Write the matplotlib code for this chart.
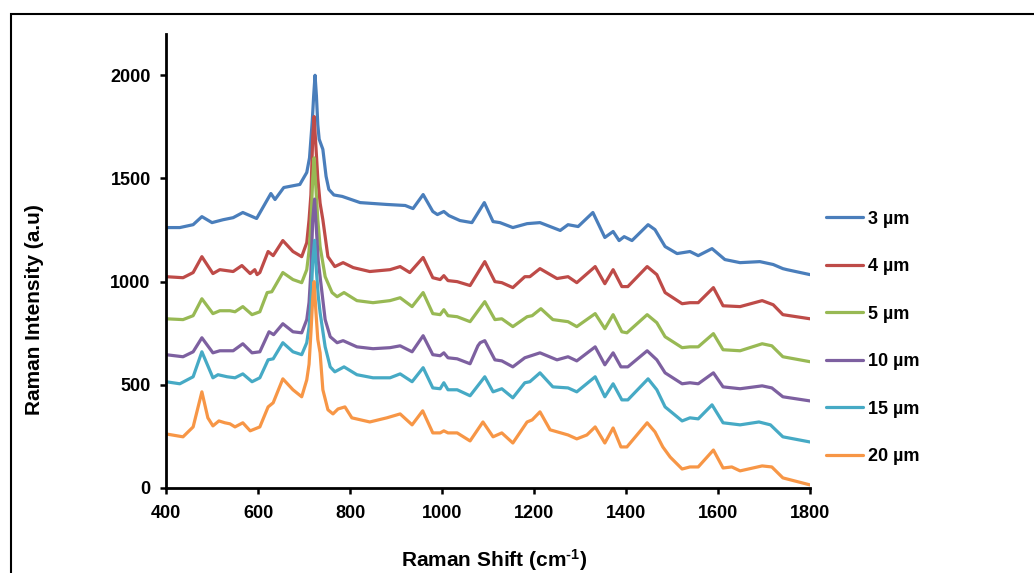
import matplotlib
matplotlib.use('Agg')
import matplotlib.pyplot as plt
from matplotlib.patches import Rectangle

plt.rcParams['font.family'] = ['Liberation Sans', 'DejaVu Sans']
plt.rcParams['font.weight'] = 'bold'
plt.rcParams['mathtext.fontset'] = 'custom'
plt.rcParams['mathtext.rm'] = 'Liberation Sans:bold'
plt.rcParams['mathtext.default'] = 'rm'

# spectra (Raman shift in cm-1, intensity in a.u.)
x_3um = [400, 430, 459, 478, 500, 524, 546, 567, 597, 628,
         637, 656, 691, 706, 712, 718, 721, 724, 727, 730,
         733, 741, 748, 754, 765, 783, 822, 880, 920, 937,
         959, 980, 990, 1004, 1015, 1039, 1065, 1092, 1111, 1126,
         1154, 1185, 1213, 1257, 1274, 1296, 1328, 1354, 1372, 1385,
         1396, 1413, 1448, 1463, 1485, 1511, 1539, 1557, 1587, 1615,
         1648, 1691, 1720, 1741, 1750, 1800]
y_3um = [1262, 1262, 1276, 1315, 1286, 1300, 1310, 1335, 1306, 1427,
         1398, 1456, 1471, 1529, 1600, 1780, 1900, 2000, 1900, 1760,
         1690, 1641, 1510, 1447, 1420, 1413, 1383, 1374, 1369, 1354,
         1422, 1340, 1325, 1340, 1320, 1296, 1286, 1383, 1291, 1286,
         1262, 1281, 1286, 1248, 1276, 1267, 1335, 1214, 1243, 1199,
         1218, 1199, 1276, 1252, 1170, 1136, 1146, 1126, 1160, 1107,
         1092, 1097, 1083, 1063, 1058, 1034]

x_4um = [400, 437, 459, 478, 502, 517, 546, 565, 583, 593,
         598, 604, 622, 633, 654, 676, 695, 706, 711, 715,
         719, 722, 726, 730, 735, 741, 752, 767, 785, 807,
         843, 887, 909, 930, 959, 980, 996, 1004, 1013, 1033,
         1061, 1093, 1115, 1130, 1154, 1180, 1191, 1213, 1250, 1274,
         1293, 1333, 1354, 1372, 1391, 1404, 1446, 1467, 1485, 1522,
         1539, 1557, 1590, 1611, 1648, 1696, 1720, 1741, 1800]
y_4um = [1024, 1019, 1044, 1121, 1039, 1058, 1049, 1078, 1039, 1058,
         1034, 1044, 1146, 1126, 1199, 1146, 1121, 1189, 1300, 1420,
         1700, 1800, 1650, 1500, 1380, 1300, 1121, 1073, 1092, 1068,
         1049, 1058, 1073, 1044, 1117, 1019, 1010, 1029, 1005, 1000,
         981, 1097, 1000, 995, 971, 1024, 1024, 1063, 1015, 1024,
         995, 1073, 990, 1058, 976, 976, 1073, 1034, 947, 893,
         898, 898, 971, 883, 879, 908, 888, 840, 820]

x_5um = [400, 437, 459, 478, 502, 517, 539, 550, 567, 587,
         604, 620, 630, 654, 676, 695, 706, 711, 715, 719,
         722, 726, 730, 735, 746, 761, 772, 787, 815, 850,
         887, 909, 935, 959, 980, 996, 1004, 1013, 1033, 1061,
         1093, 1115, 1130, 1154, 1185, 1196, 1215, 1241, 1274, 1293,
         1333, 1354, 1372, 1391, 1402, 1446, 1467, 1485, 1522, 1539,
         1557, 1590, 1611, 1648, 1696, 1717, 1741, 1800]
y_5um = [820, 816, 835, 917, 845, 859, 859, 854, 879, 840,
         854, 947, 951, 1044, 1010, 995, 1058, 1150, 1280, 1500,
         1600, 1450, 1300, 1170, 1024, 947, 927, 947, 908, 898,
         908, 922, 879, 947, 845, 840, 864, 835, 830, 806,
         903, 816, 820, 782, 830, 835, 869, 816, 806, 782,
         845, 772, 840, 757, 752, 840, 801, 733, 680, 684,
         684, 748, 670, 665, 699, 689, 636, 612]

x_10um = [400, 437, 459, 478, 502, 517, 546, 567, 587, 604,
          624, 634, 654, 676, 695, 706, 711, 715, 719, 723,
          727, 731, 735, 746, 757, 772, 785, 815, 850, 887,
          909, 935, 959, 980, 996, 1004, 1013, 1033, 1061, 1078,
          1083, 1093, 1115, 1130, 1154, 1180, 1213, 1250, 1274, 1293,
          1333, 1354, 1372, 1389, 1404, 1446, 1467, 1485, 1522, 1539,
          1557, 1590, 1611, 1648, 1696, 1717, 1741, 1800]
y_10um = [646, 636, 660, 728, 655, 665, 665, 699, 655, 660,
          757, 743, 796, 757, 752, 816, 900, 1050, 1300, 1400,
          1250, 1100, 1024, 816, 733, 704, 714, 684, 675, 680,
          689, 660, 738, 646, 641, 655, 631, 626, 602, 689,
          704, 714, 621, 616, 587, 631, 655, 621, 636, 616,
          684, 597, 655, 587, 587, 665, 621, 558, 505, 510,
          505, 558, 490, 481, 495, 485, 442, 422]

x_15um = [400, 430, 459, 478, 502, 513, 533, 550, 567, 587,
          604, 622, 633, 654, 676, 695, 706, 711, 715, 719,
          723, 727, 731, 735, 746, 757, 767, 787, 815, 850,
          887, 909, 935, 959, 980, 996, 1004, 1013, 1033, 1061,
          1093, 1111, 1130, 1154, 1180, 1191, 1213, 1241, 1274, 1293,
          1333, 1354, 1372, 1391, 1404, 1448, 1467, 1485, 1522, 1539,
          1557, 1587, 1611, 1648, 1689, 1714, 1741, 1800]
y_15um = [515, 505, 539, 660, 534, 549, 539, 534, 553, 515,
          534, 621, 626, 704, 660, 646, 704, 780, 900, 1100,
          1200, 1050, 930, 850, 684, 587, 563, 587, 549, 534,
          534, 553, 515, 583, 485, 481, 510, 476, 476, 447,
          539, 466, 481, 437, 510, 515, 558, 490, 485, 466,
          539, 442, 505, 427, 427, 529, 476, 393, 325, 340,
          335, 403, 316, 306, 320, 306, 248, 223]

x_20um = [400, 437, 459, 478, 491, 502, 515, 528, 539, 550,
          567, 583, 604, 622, 633, 654, 676, 695, 706, 711,
          715, 719, 722, 726, 730, 735, 741, 752, 763, 774,
          789, 804, 843, 880, 909, 935, 958, 980, 996, 1004,
          1013, 1033, 1061, 1089, 1111, 1130, 1154, 1185, 1196, 1213,
          1235, 1274, 1293, 1315, 1333, 1354, 1372, 1389, 1402, 1446,
          1463, 1480, 1496, 1522, 1539, 1557, 1590, 1611, 1630, 1648,
          1696, 1717, 1741, 1800]
y_20um = [262, 248, 296, 466, 340, 301, 325, 316, 311, 296,
          316, 277, 296, 393, 413, 529, 476, 442, 524, 600,
          750, 920, 1000, 850, 720, 655, 476, 379, 359, 383,
          393, 340, 320, 340, 359, 306, 374, 267, 267, 277,
          267, 267, 228, 320, 248, 267, 218, 320, 330, 369,
          282, 257, 238, 257, 296, 218, 291, 199, 199, 316,
          272, 199, 150, 92, 102, 102, 184, 97, 102, 83,
          107, 102, 49, 15]

labels = ['3 µm', '4 µm', '5 µm', '10 µm', '15 µm', '20 µm']
colors = ['#4A7EBB', '#BE4B48', '#98B954', '#7D60A0', '#46AAC5', '#F79646']
series = [(x_3um, y_3um), (x_4um, y_4um), (x_5um, y_5um),
          (x_10um, y_10um), (x_15um, y_15um), (x_20um, y_20um)]

fig = plt.figure(figsize=(10.34, 5.73), dpi=100)
ax = fig.add_axes([166 / 1034, 1 - 488 / 573, 644 / 1034, 454 / 573])

for (xs, ys), lab, col in zip(series, labels, colors):
    ax.plot(xs, ys, color=col, lw=2.3, label=lab,
            solid_joinstyle='round', solid_capstyle='round')

ax.set_xlim(400, 1800)
ax.set_ylim(0, 2200)
ax.set_xticks(range(400, 1801, 200))
ax.set_yticks(range(0, 2001, 500))

for s in ['top', 'right']:
    ax.spines[s].set_visible(False)
for s in ['left', 'bottom']:
    ax.spines[s].set_linewidth(2)
ax.tick_params(direction='out', length=4, width=1.8, labelsize=13, pad=7)
ax.tick_params(axis='x', pad=8)

ax.set_xlabel(r'Raman Shift (cm$^{\text{-}1}$)', fontsize=15, fontweight='bold')
ax.set_ylabel('Raman Intensity (a.u)', fontsize=15, fontweight='bold')
ax.xaxis.set_label_coords(0.509, -0.13)
ax.yaxis.set_label_coords(-0.19, 0.394)

ax.legend(loc='center left', bbox_to_anchor=(826 / 1034, 1 - 338 / 573),
          bbox_transform=fig.transFigure, frameon=False, fontsize=13,
          handlelength=2.05, handletextpad=0.3, labelspacing=1.69,
          borderpad=0, borderaxespad=0)

# thin frame round the chart area, cut off at the right and bottom
fig.add_artist(Rectangle((11 / 1034, -0.1), 1.2, 1.1 - 14 / 573,
                         transform=fig.transFigure, fill=False,
                         edgecolor='black', lw=1.5, clip_on=False))

fig.savefig('out.png', dpi=100)
